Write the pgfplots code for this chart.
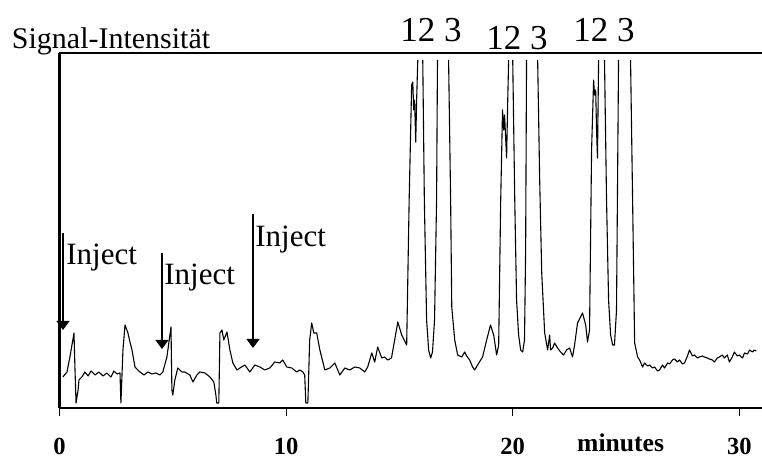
\documentclass[border=0pt]{standalone}
\usepackage{pgfplots}
\pgfplotsset{compat=1.18}
\usepackage{fontspec}
\setmainfont{Liberation Serif}
\usetikzlibrary{arrows.meta}
\begin{document}
\begin{tikzpicture}[x=1pt,y=1pt]
\useasboundingbox (0,0) rectangle (381,229.5);
\begin{axis}[
  at={(29.75pt,25.5pt)}, anchor=south west,
  scale only axis, width=351.25pt, height=177.5pt,
  xmin=0, xmax=31, ymin=0, ymax=355,
  axis x line=bottom, axis y line=left,
  axis line style={-, line width=1.35pt},
  xtick={0,10,20,30}, ytick=\empty,
  tick align=outside, major tick length=4pt,
  tick style={line width=0.5pt, black},
  /pgf/number format/assume math mode=true,
  xticklabel style={font=\fontsize{12.3}{14}\selectfont\bfseries, anchor=base, inner sep=0pt, yshift=-19.5pt},
  xlabel={minutes},
  every axis x label/.style={at={(axis description cs:0.7364,0)}, anchor=base west, inner sep=0pt, yshift=-22pt, font=\fontsize{12.8}{15}\selectfont\bfseries},
  ylabel={Signal-Intensität},
  every axis y label/.style={at={(axis description cs:-0.0683,1.0113)}, anchor=base west, inner sep=0pt, font=\fontsize{15}{17}\selectfont},
  unbounded coords=jump, clip=false,
]
\addplot[black, line width=0.55pt, line join=round] coordinates {
(0.15,31) (0.33,36) (0.46,51) (0.64,75) (0.68,41) (0.73,5) (0.82,18) (0.86,28) (0.99,31) (1.12,36)
(1.26,32) (1.39,37) (1.57,33) (1.74,36) (1.92,32) (2.09,35) (2.27,31) (2.40,37) (2.54,34) (2.67,35)
(2.71,5) (2.80,58) (2.89,83) (3.02,75) (3.11,66) (3.20,58) (3.33,41) (3.55,36)
(3.73,33) (3.90,36) (4.08,34) (4.25,35) (4.43,33) (4.56,36)
(4.74,51) (4.92,81) (4.96,18) (5.00,13) (5.09,28) (5.22,40) (5.40,36) (5.53,36) (5.75,33) (5.89,26)
(6.06,33) (6.19,36) (6.42,35) (6.64,31) (6.81,26) (6.90,13) (6.94,5) (7.03,5)
(7.08,75) (7.17,78) (7.25,68) (7.39,76) (7.52,58) (7.65,45) (7.83,38) (7.96,40) (8.18,43) (8.40,36)
(8.62,43) (8.84,41) (9.06,38) (9.28,40) (9.50,46) (9.72,45) (9.85,48) (10.03,41) (10.25,40) (10.47,36)
(10.60,38) (10.74,36) (10.82,33) (10.87,5) (10.96,5)
(11.04,68) (11.13,85) (11.22,75) (11.35,75) (11.49,58) (11.71,38) (11.93,40) (12.15,45) (12.37,33)
(12.59,40) (12.81,38) (13.03,41) (13.25,40) (13.47,36) (13.60,41) (13.78,55) (13.91,46) (14.04,61)
(14.22,50) (14.35,51) (14.48,48) (14.65,50) (14.79,68) (14.93,86) (15.10,73) (15.32,63)
(15.43,208) (15.54,323) (15.59,326) (15.63,298) (15.67,308) (15.72,266) (15.76,308) (15.81,348)
(nan,nan)
(16.03,348) (16.10,208) (16.20,88) (16.29,58) (16.38,50) (16.46,56) (16.55,88) (16.64,208) (16.68,348)
(nan,nan)
(17.17,348) (17.26,208) (17.31,101) (17.44,68) (17.57,53) (17.75,51) (17.88,56) (17.97,52) (18.10,48)
(18.23,41) (18.32,38) (18.45,43) (18.67,51) (18.85,68) (19.02,83) (19.16,73) (19.29,53) (19.38,63)
(19.47,208) (19.55,298) (19.60,278) (19.64,293) (19.73,250) (19.78,308) (19.82,348)
(nan,nan)
(20.00,348) (20.09,208) (20.17,108) (20.26,73) (20.35,58) (20.44,56) (20.52,68) (20.57,158) (20.61,348)
(nan,nan)
(21.10,348) (21.19,228) (21.28,135) (21.41,75) (21.54,58) (21.63,73) (21.67,58) (21.76,60) (21.85,65)
(21.98,60) (22.11,56) (22.24,53) (22.38,58) (22.51,60) (22.64,51) (22.73,63) (22.86,85) (23.08,95)
(23.22,83) (23.30,66) (23.39,78) (23.48,258) (23.57,328) (23.61,313) (23.66,318) (23.70,278) (23.74,250) (23.79,348)
(nan,nan)
(24.05,348) (24.14,208) (24.23,108) (24.32,73) (24.41,63) (24.49,63) (24.58,98) (24.62,208) (24.67,348)
(nan,nan)
(25.20,348) (25.29,208) (25.38,65) (25.51,51) (25.60,48) (25.73,41) (25.82,45) (25.95,42) (26.04,43)
(26.17,40) (26.26,41) (26.39,37) (26.48,38) (26.61,43) (26.70,40) (26.83,45) (26.92,44) (27.05,48)
(27.14,49) (27.27,46) (27.36,48) (27.49,44) (27.58,45) (27.71,52) (27.80,58) (27.93,52) (28.02,53)
(28.15,50) (28.24,51) (28.37,52) (28.46,51) (28.59,50) (28.68,49) (28.81,48) (28.90,46) (29.03,50)
(29.12,51) (29.25,53) (29.34,50) (29.47,53) (29.56,46) (29.69,51) (29.78,56) (29.91,52) (30.00,53)
(30.14,50) (30.23,55) (30.36,54) (30.45,58) (30.58,56) (30.67,58) (30.75,57)
};
\draw[line width=0.85pt] (rel axis cs:0,1) -- (rel axis cs:1,1);
\end{axis}
% annotations (pixel/2 coordinates)
\begin{scope}[font=\fontsize{15.5}{18}\selectfont]
\node[anchor=base west, inner sep=0] at (33,97) {Inject};
\node[anchor=base west, inner sep=0] at (82,87) {Inject};
\node[anchor=base west, inner sep=0] at (127.5,106) {Inject};
\end{scope}
\draw[line width=0.75pt, -{Triangle[width=6.5pt,length=4.5pt]}] (31.5,113) -- (31.5,64.5);
\draw[line width=0.65pt, -{Triangle[width=6.5pt,length=4.5pt]}] (81,103) -- (81,55);
\draw[line width=0.65pt, -{Triangle[width=6.5pt,length=4.5pt]}] (126.5,122.5) -- (126.5,55.5);
\begin{scope}[font=\fontsize{17.5}{20}\selectfont]
\node[anchor=base west, inner sep=0] at (200,208.5) {12 3};
\node[anchor=base west, inner sep=0] at (243,204.5) {12 3};
\node[anchor=base west, inner sep=0] at (286.5,208.5) {12 3};
\end{scope}
\end{tikzpicture}
\end{document}
